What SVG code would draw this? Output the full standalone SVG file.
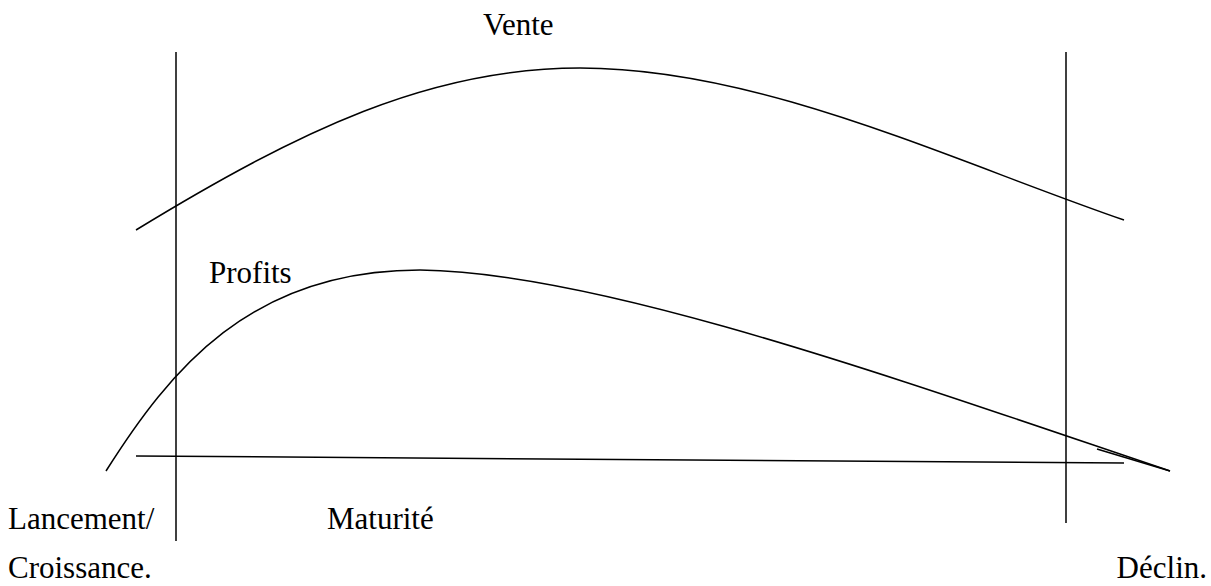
<svg xmlns="http://www.w3.org/2000/svg" width="1211" height="586" viewBox="0 0 1211 586">
<style>
.ln{fill:none;stroke:#000;stroke-width:1.5}
.t{font-family:'Liberation Serif','Times New Roman',serif;font-size:31px;fill:#000}
</style>
<rect width="1211" height="586" fill="#fff"/>
<g id="connectors">
<line class="ln" x1="176" y1="52" x2="176" y2="541"/>
<line class="ln" x1="1066" y1="52" x2="1066" y2="523"/>
<line class="ln" x1="136" y1="456" x2="1124" y2="463"/>
<path class="ln" d="M136,230 C300,130 430,68 580,68 C760,68 950,160 1124,220"/>
<path class="ln" d="M106,471 C170,370 250,270 420,270 C600,272 900,380 1170,471"/>
<line class="ln" x1="1097" y1="449" x2="1170" y2="471"/>
</g>
<g id="vente"><text class="t" x="483" y="35">Vente</text></g>
<g id="profits"><text class="t" x="209" y="283">Profits</text></g>
<g id="lancement"><text class="t" x="8" y="529">Lancement/</text></g>
<g id="croissance"><text class="t" x="8" y="578">Croissance.</text></g>
<g id="maturite"><text class="t" x="327" y="529">Maturité</text></g>
<g id="declin"><text class="t" text-anchor="end" x="1207" y="578">Déclin.</text></g>
</svg>
